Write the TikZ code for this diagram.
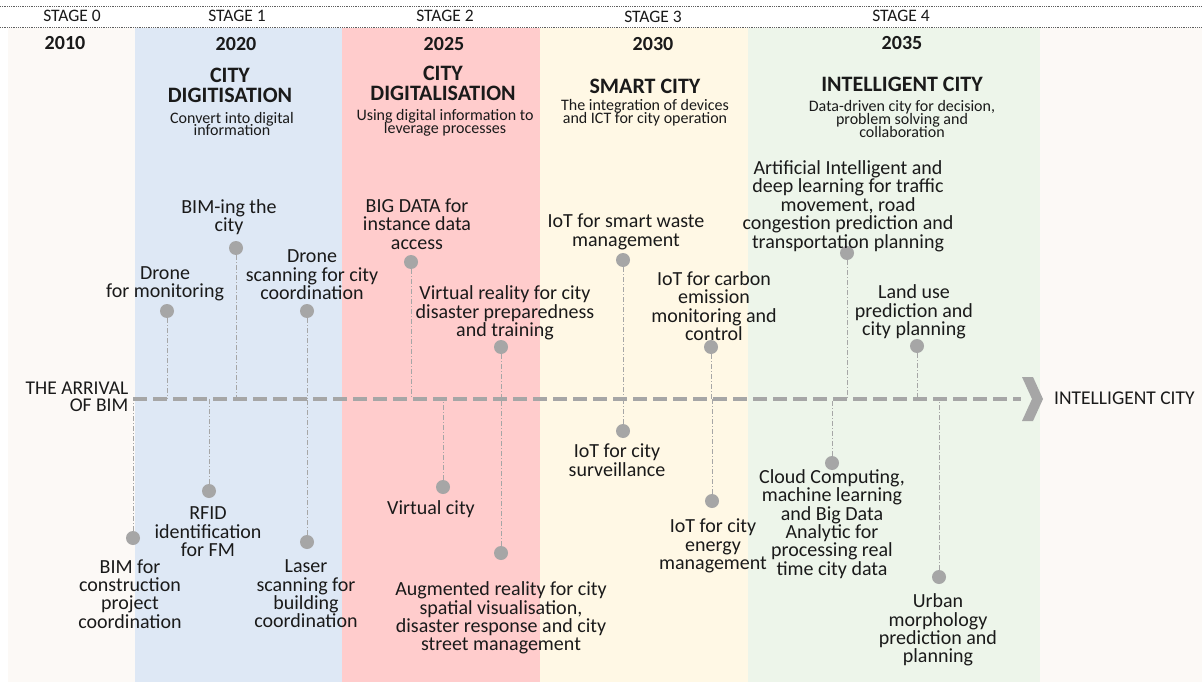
\documentclass[tikz,border=0pt]{standalone}
\usepackage{fontspec}
\setmainfont{Carlito}
\usepackage{xcolor}
\usepackage{tikz}

\definecolor{paper}{HTML}{FCF9F6}
\definecolor{stageblue}{HTML}{DEE8F5}
\definecolor{stagepink}{HTML}{FFCCCC}
\definecolor{stagecream}{HTML}{FFF8E5}
\definecolor{stagegreen}{HTML}{EDF5EA}
\definecolor{markgray}{HTML}{A6A6A6}
\definecolor{ink}{HTML}{1A1A1A}

\newcommand{\tightlines}{\lineskiplimit-20pt\relax}

\begin{document}
\begin{tikzpicture}[x=1pt,y=-1pt,
    lbl/.style={align=center,inner sep=0pt,text=ink,font=\fontsize{20}{18.4}\selectfont\tightlines},
    stagehd/.style={inner sep=0pt,text=ink,font=\fontsize{17.5}{18}\selectfont},
    year/.style={inner sep=0pt,text=ink,font=\fontsize{20}{22}\selectfont\bfseries},
    title/.style={align=center,inner sep=0pt,text=ink,font=\fontsize{22}{20}\selectfont\bfseries},
    sub/.style={align=center,inner sep=0pt,text=ink,font=\fontsize{16}{12.8}\selectfont\tightlines},
    dot/.style={circle,fill=markgray,inner sep=0pt,minimum size=14pt},
    tick/.style={markgray,line width=1pt,dash pattern=on 5pt off 2pt on 1pt off 2pt},
    axisline/.style={markgray,line width=4.5pt,dash pattern=on 14pt off 6pt}]
    \useasboundingbox (0,0) rectangle (1202,682);
    \fill[white] (0,0) rectangle (1202,682);
    \fill[paper] (8,28) rectangle (1202,682);
    \fill[stageblue] (135,28) rectangle (342,682);
    \fill[stagepink] (342,28) rectangle (540,682);
    \fill[stagecream] (540,28) rectangle (748,682);
    \fill[stagegreen] (748,28) rectangle (1040,682);
    \draw[ink!70,densely dotted,line width=0.8pt] (0,6) -- (1202,6);
    \draw[ink!70,densely dotted,line width=0.8pt] (0,27) -- (1202,27);

    \node[stagehd] (s0) at (72,16) {STAGE 0};
    \node[stagehd] (s1) at (237,16) {STAGE 1};
    \node[stagehd] (s2) at (445,16) {STAGE 2};
    \node[stagehd] (s3) at (653,17) {STAGE 3};
    \node[stagehd] (s4) at (901,16) {STAGE 4};

    \node[year] (y0) at (65,43) {2010};
    \node[year] (y1) at (236,44) {2020};
    \node[year] (y2) at (444,44) {2025};
    \node[year] (y3) at (653,44) {2030};
    \node[year] (y4) at (902,43) {2035};

    \node[title] (t1) at (230,85) {CITY\\DIGITISATION};
    \node[title] (t2) at (443,83) {CITY\\DIGITALISATION};
    \node[title] (t3) at (645,86) {SMART CITY};
    \node[title] (t4) at (902,84) {INTELLIGENT CITY};
    \node[sub] (u1) at (232,124) {Convert into digital\\information};
    \node[sub] (u2) at (445,123) {Using digital information to\\leverage processes};
    \node[sub] (u3) at (645,113) {The integration of devices\\and ICT for city operation};
    \node[sub] (u4) at (902,119) {Data-driven city for decision,\\problem solving and\\collaboration};

    \coordinate (axis) at (133,399);
    \coordinate (tip) at (1021,399);
    \draw[axisline] (axis) -- (tip);
    \fill[markgray] (1022,377) -- (1033,377) -- (1043,399) -- (1033,421) -- (1022,421) -- (1032,399) -- cycle;
    \node[lbl,align=right,font=\fontsize{19.5}{16.5}\selectfont\tightlines] (start) at (77,397) {THE ARRIVAL\\OF BIM};
    \node[lbl,anchor=west,font=\fontsize{19.5}{18}\selectfont] (goal) at (1054,398) {INTELLIGENT CITY};

    \node[dot] (dDrmon) at (167,311) {};
    \node[dot] (dBimcity) at (236,248) {};
    \node[dot] (dDrscan) at (307,311) {};
    \node[dot] (dBigdata) at (411,262) {};
    \node[dot] (dVr) at (501,347) {};
    \node[dot] (dWaste) at (623,260) {};
    \node[dot] (dCarbon) at (711,347) {};
    \node[dot] (dAi) at (847,253) {};
    \node[dot] (dLand) at (917,346) {};
    \node[dot] (dBimcon) at (133,538) {};
    \node[dot] (dRfid) at (209,491) {};
    \node[dot] (dLaser) at (307,542) {};
    \node[dot] (dVcity) at (443,487) {};
    \node[dot] (dAr) at (501,553) {};
    \node[dot] (dSurv) at (623,431) {};
    \node[dot] (dEnergy) at (712,501) {};
    \node[dot] (dCloud) at (832,463) {};
    \node[dot] (dUrban) at (939,577) {};

    \foreach \d in {dDrmon,dBimcity,dDrscan,dBigdata,dVr,dWaste,dCarbon,dAi,dLand,
        dBimcon,dRfid,dLaser,dVcity,dAr,dSurv,dEnergy,dCloud,dUrban}
        \draw[tick] (\d) -- (\d |- axis);

    \node[lbl] (drmon) at (165,284) {Drone\\for monitoring};
    \node[lbl] (bimcity) at (229,217) {BIM-ing the\\city};
    \node[lbl] (drscan) at (312,275) {Drone\\scanning for city\\coordination};
    \node[lbl] (bigdata) at (417,224) {BIG DATA for\\instance data\\access};
    \node[lbl] (vr) at (505,313) {Virtual reality for city\\disaster preparedness\\and training};
    \node[lbl] (waste) at (626,232) {IoT for smart waste\\management};
    \node[lbl] (carbon) at (714,306) {IoT for carbon\\emission\\monitoring and\\control};
    \node[lbl] (ai) at (848,206) {Artificial Intelligent and\\deep learning for traffic\\movement, road\\congestion prediction and\\transportation planning};
    \node[lbl] (land) at (914,312) {Land use\\prediction and\\city planning};

    \node[lbl] (bimcon) at (130,594) {BIM for\\construction\\project\\coordination};
    \node[lbl] (rfid) at (208,532) {RFID\\identification\\for FM};
    \node[lbl] (laser) at (306,594) {Laser\\scanning for\\building\\coordination};
    \node[lbl] (vcity) at (431,509) {Virtual city};
    \node[lbl] (ar) at (501,618) {Augmented reality for city\\spatial visualisation,\\disaster response and city\\street management};
    \node[lbl] (surv) at (617,460) {IoT for city\\surveillance};
    \node[lbl] (energy) at (713,546) {IoT for city\\energy\\management};
    \node[lbl] (cloud) at (832,524) {Cloud Computing,\\machine learning\\and Big Data\\Analytic for\\processing real\\time city data};
    \node[lbl] (urban) at (938,630) {Urban\\morphology\\prediction and\\planning};
\end{tikzpicture}
\end{document}
